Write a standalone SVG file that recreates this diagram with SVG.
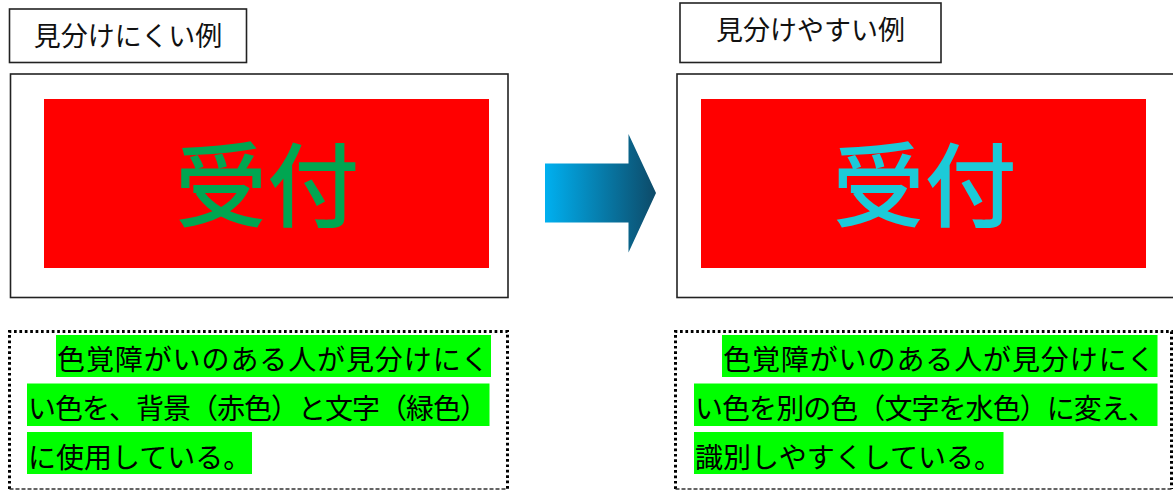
<svg xmlns="http://www.w3.org/2000/svg" width="1173" height="490" viewBox="0 0 1173 490">
<style>
.t{font-family:"Noto Sans CJK JP","Noto Sans CJK SC",sans-serif;}
.title{font-size:27px;fill:#111;text-anchor:middle;}
.box{fill:#fff;stroke:#222;stroke-width:1.6;}
.big{font-size:92px;text-anchor:middle;font-weight:500;}
.body{font-size:28px;fill:#000;}
.hl{fill:#00FF00;}
.dot{stroke:#000;stroke-width:3;stroke-dasharray:2.7 2.7;fill:none;}
.dash{stroke:#333;stroke-width:1.3;stroke-dasharray:4 2;fill:none;}
</style>
<defs>
<linearGradient id="ag" x1="0" y1="0" x2="1" y2="0">
<stop offset="0" stop-color="#00B0F0"/>
<stop offset="1" stop-color="#0D4A68"/>
</linearGradient>
</defs>
<rect width="1173" height="490" fill="#fff"/>

<g id="left-title">
<rect class="box" x="9.5" y="9" width="237" height="53.5"/>
<text class="t title" x="128" y="45.5">見分けにくい例</text>
</g>

<g id="left-sign">
<rect class="box" x="10.5" y="74" width="497.5" height="223.5"/>
<rect x="44" y="99" width="445" height="169" fill="#FF0000"/>
<text class="t big" x="267" y="220" fill="#00A651">受付</text>
</g>

<g id="connectors">
<path d="M545,163.5 H628.5 V134 L656,193 L628.5,252.5 V222.5 H545 Z" fill="url(#ag)"/>
</g>

<g id="right-title">
<rect class="box" x="680" y="3" width="261" height="59.5"/>
<text class="t title" x="810.5" y="40">見分けやすい例</text>
</g>

<g id="right-sign">
<rect class="box" x="677" y="74" width="497" height="223.5"/>
<rect x="701" y="99" width="445" height="169" fill="#FF0000"/>
<text class="t big" x="924.5" y="220" fill="#1CCAD8">受付</text>
</g>

<g id="left-note">
<path class="dot" d="M9.5,489 V331.5 H507.5 V489"/>
<path class="dash" d="M9.5,489 H507.5"/>
<rect class="hl" x="56" y="335" width="435" height="42"/>
<rect class="hl" x="27" y="383.5" width="462.5" height="42.5"/>
<rect class="hl" x="27" y="432" width="225" height="42"/>
<text class="t body" x="57" y="370" textLength="432" lengthAdjust="spacing">色覚障がいのある人が見分けにく</text>
<text class="t body" x="28" y="419" textLength="460" lengthAdjust="spacing">い色を、背景（赤色）と文字（緑色）</text>
<text class="t body" x="28" y="467.5">に使用している。</text>
</g>

<g id="right-note">
<path class="dot" d="M675.5,489 V331.5 H1171.5 V489"/>
<path class="dash" d="M675.5,489 H1171.5"/>
<rect class="hl" x="722" y="335" width="435.5" height="42"/>
<rect class="hl" x="694" y="383.5" width="463.5" height="42.5"/>
<rect class="hl" x="694" y="432" width="309.5" height="42"/>
<text class="t body" x="723" y="370" textLength="432" lengthAdjust="spacing">色覚障がいのある人が見分けにく</text>
<text class="t body" x="695" y="419" textLength="461" lengthAdjust="spacing">い色を別の色（文字を水色）に変え、</text>
<text class="t body" x="695" y="467.5">識別しやすくしている。</text>
</g>
</svg>
